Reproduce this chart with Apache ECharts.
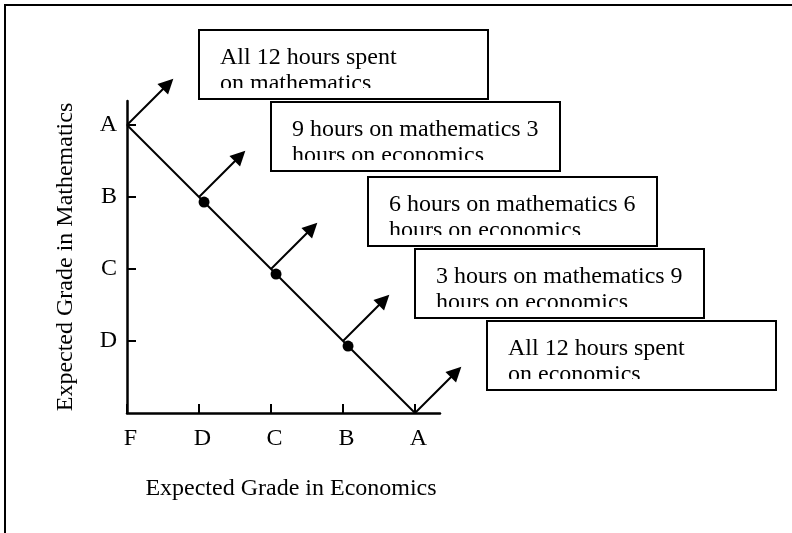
<!DOCTYPE html>
<html><head><meta charset="utf-8">
<script src="https://cdn.jsdelivr.net/npm/echarts@6/dist/echarts.min.js"></script>
<style>html,body{margin:0;padding:0;background:#fff}#c{width:792px;height:533px}</style>
</head><body><div id="c"></div>
<script>
// ---- data ----
const gradeLabels = ['F', 'D', 'C', 'B', 'A'];           // index 0..4 on both axes
const xTickValues = [0, 1, 2, 3, 4];
const yTickValues = [1, 2, 3, 4];
const frontier = [[0, 4], [4, 0]];                         // (economics, mathematics)
const allocationPoints = [[1.07, 2.93], [2.07, 1.93], [3.07, 0.93]];
const arrowStarts = [[0, 4], [1, 3], [2, 2], [3, 1], [4, 0]];
const arrowLength = 0.57;
const boxTexts = [
  ['All 12 hours spent', 'on mathematics'],
  ['9 hours on mathematics 3', 'hours on economics'],
  ['6 hours on mathematics 6', 'hours on economics'],
  ['3 hours on mathematics 9', 'hours on economics'],
  ['All 12 hours spent', 'on economics']
];
const xTitle = 'Expected Grade in Economics';
const yTitle = 'Expected Grade in Mathematics';

// ---- layout ----
const FONT = 'Liberation Serif';
const FS = 24;
const boxLayout = [[199, 30], [271, 102], [368, 177], [415, 249], [487, 321]];
const BOX_W = 289, BOX_H = 69;

const graphics = [{
  type: 'rect', z: 0, silent: true,
  shape: { x: 5, y: 5, width: 900, height: 900 },
  style: { fill: 'none', stroke: '#000', lineWidth: 2 }
}];
boxTexts.forEach((lines, i) => {
  const [bx, by] = boxLayout[i];
  graphics.push({
    type: 'rect', z: 10, silent: true,
    shape: { x: bx, y: by, width: BOX_W, height: BOX_H },
    style: { fill: '#fff', stroke: '#000', lineWidth: 2 }
  });
  lines.forEach((t, j) => {
    graphics.push({
      type: 'text', z: 11, silent: true,
      x: bx + 21, y: by + 28 + j * 26,
      style: { text: t, fill: '#000', font: FS + 'px "' + FONT + '"', verticalAlign: 'middle', align: 'left' }
    });
  });
  graphics.push({
    type: 'rect', z: 12, silent: true,
    shape: { x: bx + 2, y: by + 58, width: BOX_W - 4, height: BOX_H - 60 },
    style: { fill: '#fff' }
  });
});

const axisCommon = {
  type: 'value', min: 0, interval: 1,
  axisLine: { show: true, lineStyle: { color: '#000', width: 2.5 } },
  axisTick: { show: true, inside: true, length: 9, lineStyle: { color: '#000', width: 2 } },
  splitLine: { show: false },
  nameLocation: 'middle',
  nameTextStyle: { fontFamily: FONT, fontSize: FS, color: '#000' }
};

const chart = echarts.init(document.getElementById('c'), null, { renderer: 'canvas' });
chart.setOption({
  animation: false,
  backgroundColor: '#fff',
  grid: { left: 127, top: 101, width: 313, height: 312, containLabel: false },
  xAxis: Object.assign({}, axisCommon, {
    max: 313 / 72,
    name: xTitle, nameGap: 64,
    nameTextStyle: { fontFamily: FONT, fontSize: FS, color: '#000', padding: [0, 0, 0, 15] },
    axisTick: Object.assign({}, axisCommon.axisTick, { customValues: xTickValues }),
    axisLabel: {
      customValues: xTickValues, formatter: v => gradeLabels[Math.round(v)],
      fontFamily: FONT, fontSize: FS, color: '#000', margin: 14, padding: [0, 0, 0, 7]
    }
  }),
  yAxis: Object.assign({}, axisCommon, {
    max: 312 / 72,
    name: yTitle, nameGap: 49,
    axisTick: Object.assign({}, axisCommon.axisTick, { customValues: yTickValues }),
    axisLabel: {
      customValues: yTickValues, formatter: v => gradeLabels[Math.round(v)],
      fontFamily: FONT, fontSize: FS, color: '#000', margin: 10
    }
  }),
  graphic: graphics,
  series: [
    {
      type: 'line', data: frontier, symbol: 'none', silent: true, clip: false,
      lineStyle: { color: '#000', width: 2 }
    },
    {
      type: 'scatter', data: allocationPoints, symbol: 'circle', symbolSize: 11, silent: true, clip: false,
      itemStyle: { color: '#000', opacity: 1 }
    },
    {
      type: 'lines', coordinateSystem: 'cartesian2d', silent: true, clip: false,
      symbol: ['none', 'triangle'], symbolSize: 15,
      lineStyle: { color: '#000', width: 2, opacity: 1, curveness: 0 },
      data: arrowStarts.map(p => ({ coords: [p, [p[0] + arrowLength, p[1] + arrowLength]] }))
    }
  ]
});
</script>
</body></html>
